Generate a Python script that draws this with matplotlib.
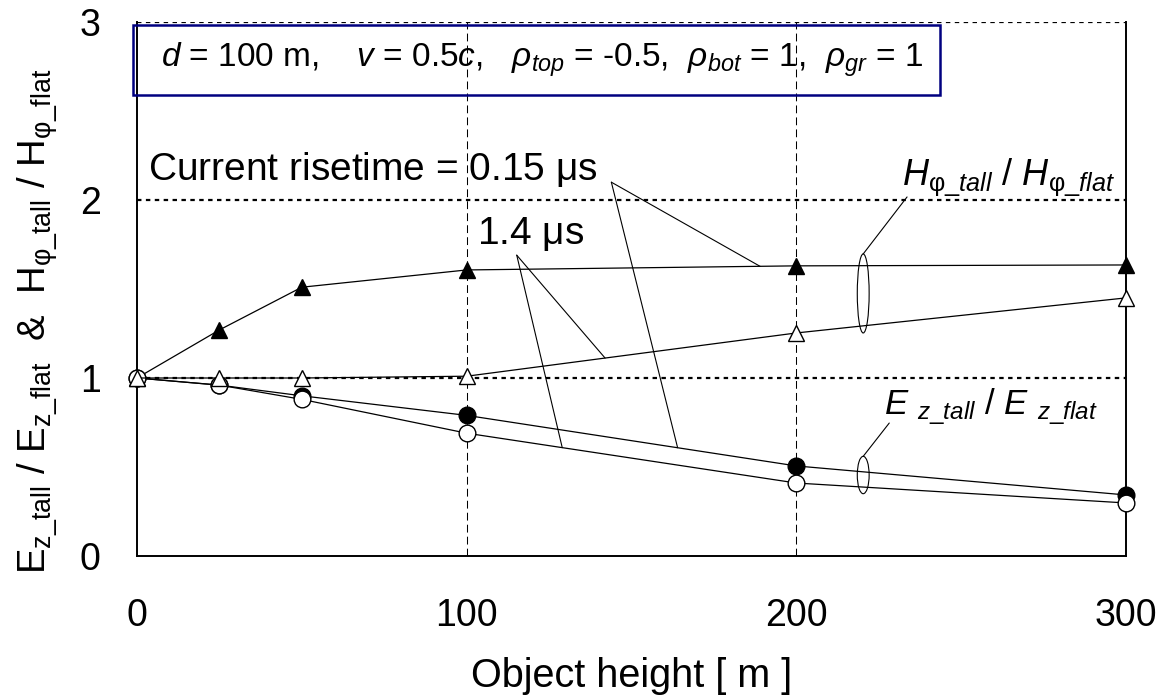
import numpy as np
import matplotlib
matplotlib.use('Agg')
import matplotlib.pyplot as plt
from matplotlib.patches import Ellipse, Rectangle

plt.rcParams['font.family'] = ['Liberation Sans', 'DejaVu Sans']
plt.rcParams['mathtext.fontset'] = 'custom'
plt.rcParams['mathtext.rm'] = 'Liberation Sans'
plt.rcParams['mathtext.it'] = 'Liberation Sans:italic'
plt.rcParams['mathtext.bf'] = 'Liberation Sans:bold'
plt.rcParams['mathtext.default'] = 'regular'

# object height [m] and field ratios (tall object / flat ground)
heights = [0, 25, 50, 100, 200, 300]
h_fast = [1.0, 1.27, 1.51, 1.607, 1.63, 1.635]   # H-field, risetime 0.15 us
h_slow = [1.0, 1.0, 1.0, 1.01, 1.253, 1.45]      # H-field, risetime 1.4 us
e_fast = [1.0, 0.96, 0.90, 0.79, 0.506, 0.343]   # E-field, risetime 0.15 us
e_slow = [1.0, 0.96, 0.88, 0.69, 0.41, 0.298]    # E-field, risetime 1.4 us

x_ticks = [0, 100, 200, 300]
y_ticks = [0, 1, 2, 3]


def leader(ax, start, end):
    ax.annotate('', xy=end, xytext=start,
                arrowprops=dict(arrowstyle='-', lw=0.8, color='k',
                                shrinkA=0, shrinkB=0))


fig = plt.figure(figsize=(11.56, 7.0), dpi=100)
ax = fig.add_axes([0.1185, 0.2057, 0.8555, 0.7629])

ax.set_xlim(0, 300)
ax.set_ylim(0, 3)
ax.set_xticks(x_ticks)
ax.set_yticks(y_ticks)
ax.tick_params(axis='both', length=0, labelsize=27)
ax.tick_params(axis='x', pad=30)
ax.tick_params(axis='y', pad=26)

ax.spines.top.set_visible(False)
for side in ['left', 'bottom', 'right']:
    ax.spines[side].set_linewidth(1.4)

# gridlines
for yv in y_ticks[1:]:
    ax.axhline(yv, color='k', lw=1.6, ls=(0, (2, 2)), zorder=0.5)
for xv in x_ticks[1:-1]:
    ax.axvline(xv, color='k', lw=0.75, ls=(0, (7.5, 4)), zorder=0.5)

ax.plot(heights, e_fast, color='k', lw=0.9, marker='o', ms=12,
        mfc='k', mec='k', zorder=3, clip_on=False)
ax.plot(heights, e_slow, color='k', lw=0.9, marker='o', ms=12,
        mfc='white', mec='k', mew=1.0, zorder=4, clip_on=False)
ax.plot(heights, h_fast, color='k', lw=0.9, marker='^', ms=12,
        mfc='k', mec='k', zorder=3, clip_on=False)
ax.plot(heights, h_slow, color='k', lw=0.9, marker='^', ms=12,
        mfc='white', mec='k', mew=1.0, zorder=5, clip_on=False)

ax.set_xlabel('Object height [ m ]', fontsize=28.5, labelpad=17)
ax.set_ylabel(r'E$_{z\_tall}$ / E$_{z\_flat}$  &  '
              r'H$_{\varphi\_tall}$ / H$_{\varphi\_flat}$',
              fontsize=27.5)
ax.yaxis.set_label_coords(-0.078, 0.44)

# parameter box
ax.add_patch(Rectangle((-0.004, 0.863), 0.816, 0.131, transform=ax.transAxes,
                       fill=False, ec='#000080', lw=1.8, clip_on=False,
                       zorder=6))
ax.text(0.4095, 0.929,
        r'$\mathit{d}$ = 100 m,    $\mathit{v}$ = 0.5$\mathit{c}$,   '
        r'$\mathit{\rho}$$_{\mathit{top}}$ = -0.5,  '
        r'$\mathit{\rho}$$_{\mathit{bot}}$ = 1,  '
        r'$\mathit{\rho}$$_{\mathit{gr}}$ = 1',
        transform=ax.transAxes, ha='center', va='center', fontsize=24,
        zorder=7)

# risetime labels and their leaders
ax.text(3.3, 2.17, r'Current risetime = 0.15 $\mu$s', fontsize=28,
        ha='left', va='center')
ax.text(103, 1.81, r'1.4 $\mu$s', fontsize=28, ha='left', va='center')

fast_start = (143.9, 2.10)
leader(ax, fast_start, (189, np.interp(189, heights, h_fast)))
leader(ax, fast_start, (164, np.interp(164, heights, e_fast)))
slow_start = (115.2, 1.69)
leader(ax, slow_start, (142, np.interp(142, heights, h_slow)))
leader(ax, slow_start, (129, np.interp(129, heights, e_slow)))

# curve group labels with ellipses
ax.add_patch(Ellipse((220.3, 1.475), 3.6, 0.444, fill=False, ec='k', lw=0.8))
ax.add_patch(Ellipse((220.3, 0.455), 3.6, 0.21, fill=False, ec='k', lw=0.8))
ax.text(232, 2.13, r'$\mathit{H}_{\varphi\_\mathit{tall}}$ / '
        r'$\mathit{H}_{\varphi\_\mathit{flat}}$',
        fontsize=26, ha='left', va='center')
ax.text(226.5, 0.84, r'$\mathit{E}$ $_{\mathit{z\_tall}}$ / '
        r'$\mathit{E}$ $_{\mathit{z\_flat}}$',
        fontsize=25, ha='left', va='center')
leader(ax, (233.6, 2.017), (220.3, 1.697))
leader(ax, (228.2, 0.747), (220.3, 0.56))

fig.savefig('out.png', dpi=100)
